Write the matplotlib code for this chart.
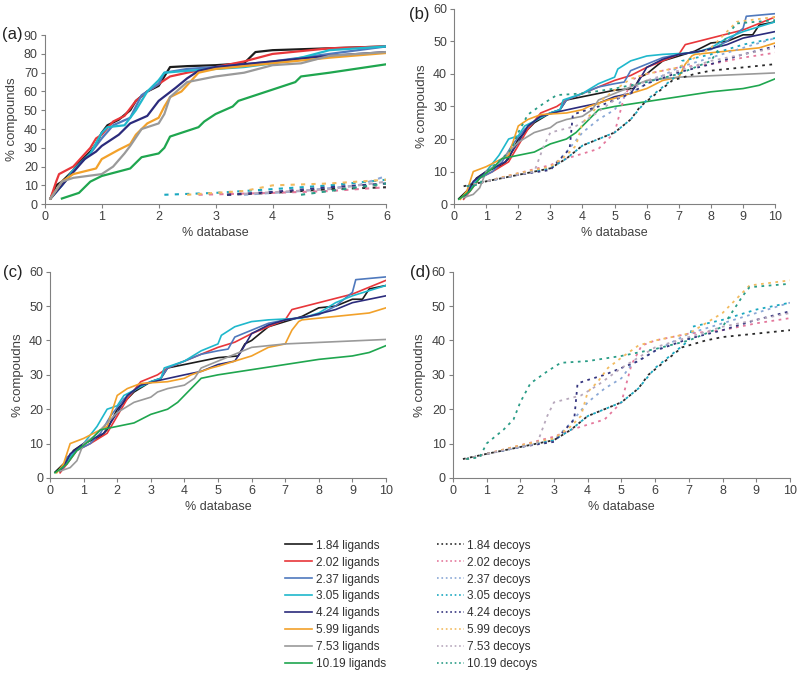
import matplotlib.pyplot as plt
from matplotlib.lines import Line2D

plt.rcParams["font.family"] = ["Liberation Sans", "DejaVu Sans"]

LABELS = ["1.84", "2.02", "2.37", "3.05", "4.24", "5.99", "7.53", "10.19"]
LIGAND_COLORS = ["#1c1c1c", "#e8363a", "#4f79bd", "#1fb8cc", "#2b2b7c",
                 "#f2a12a", "#9a9a9a", "#1fa64f"]
DECOY_COLORS = ["#2a2a2a", "#e4789c", "#8aa8d6", "#1aa8c0", "#34347e",
                "#f2bb60", "#b7a8bc", "#2a9c86"]

# panel (a): first 6 % of the database
A_LIGANDS = {
    "1.84": ([0.1, 0.2, 0.3, 0.5, 0.6, 0.8, 0.9, 1.0, 1.1, 1.3, 1.5, 1.6, 1.8, 2.0, 2.1, 2.2, 2.5, 3.0, 3.5, 3.7, 4.0, 5.0, 6.0],
             [3, 10, 12, 18, 22, 28, 32, 38, 42, 45, 50, 55, 60, 63, 68, 73, 73.5, 74, 75, 81, 82, 83, 84]),
    "2.02": ([0.1, 0.2, 0.25, 0.5, 0.8, 0.9, 1.0, 1.2, 1.4, 1.6, 1.8, 2.0, 2.2, 2.5, 3.0, 3.5, 4.0, 5.0, 6.0],
             [3, 12, 16, 20, 30, 35, 37, 44, 47, 55, 60, 64, 68, 70, 73, 76, 80, 83, 84]),
    "2.37": ([0.1, 0.3, 0.5, 0.8, 1.0, 1.2, 1.5, 1.7, 2.0, 2.1, 2.5, 3.0, 4.0, 5.0, 5.5, 6.0],
             [3, 10, 18, 27, 35, 42, 46, 58, 64, 70, 72, 73, 76, 80, 82, 84]),
    "3.05": ([0.1, 0.3, 0.5, 0.8, 1.0, 1.1, 1.4, 1.6, 1.8, 2.0, 2.1, 2.5, 3.0, 3.5, 4.0, 4.5, 5.0, 6.0],
             [3, 10, 18, 27, 38, 41, 42, 50, 60, 66, 70, 71, 72, 73, 75, 78, 82, 84]),
    "4.24": ([0.1, 0.3, 0.5, 0.7, 0.9, 1.0, 1.3, 1.5, 1.8, 2.0, 2.3, 2.5, 2.7, 3.0, 4.0, 5.0, 6.0],
             [3, 10, 17, 24, 28, 31, 37, 43, 47, 55, 62, 67, 71, 73, 76, 79, 81]),
    "5.99": ([0.1, 0.3, 0.5, 0.9, 1.0, 1.3, 1.5, 1.6, 1.8, 2.0, 2.1, 2.2, 2.4, 2.7, 3.0, 4.0, 5.0, 6.0],
             [3, 12, 16, 19, 24, 29, 32, 37, 43, 46, 52, 57, 60, 70, 72, 75, 78, 80.5]),
    "7.53": ([0.1, 0.3, 0.5, 1.0, 1.2, 1.4, 1.5, 1.7, 2.0, 2.1, 2.2, 2.5, 3.0, 3.5, 4.0, 4.5, 5.0, 6.0],
             [3, 12, 14, 16, 20, 27, 31, 40, 43, 48, 57, 65, 68, 70, 74, 75, 79, 81]),
    "10.19": ([0.3, 0.6, 0.8, 1.0, 1.5, 1.7, 2.0, 2.1, 2.2, 2.5, 2.7, 2.8, 3.0, 3.3, 3.4, 3.7, 4.0, 4.2, 4.4, 4.5, 5.0, 6.0],
              [3, 6, 12, 15, 19, 25, 27, 30, 36, 39, 41, 44, 48, 52, 55, 58, 61, 63, 65, 68, 70, 74.5]),
}
A_DECOYS = {
    "1.84": ([3.2, 4.0, 5.0, 6.0], [5, 6, 8, 9]),
    "2.02": ([2.7, 4.0, 5.0, 6.0], [5, 6, 7, 9]),
    "2.37": ([3.5, 4.5, 5.5, 6.0], [5, 7, 10, 15]),
    "3.05": ([2.1, 3.0, 4.0, 5.0, 6.0], [5, 6, 8, 10, 13]),
    "4.24": ([3.2, 4.0, 5.0, 6.0], [5, 6.5, 9, 11]),
    "5.99": ([2.5, 3.5, 4.0, 5.0, 6.0], [5, 7, 10, 11, 13]),
    "7.53": ([3.5, 5.0, 6.0], [5.5, 8, 12]),
    "10.19": ([4.5, 5.0, 6.0], [5, 7, 11]),
}

# panels (b)-(d): first 10 % of the database
B_LIGANDS = {
    "1.84": ([0.15, 0.5, 0.7, 1.0, 1.5, 1.7, 2.0, 2.5, 3.0, 3.3, 3.5, 4.0, 5.0, 5.6, 5.8, 6.0, 6.5, 7.0, 7.5, 8.0, 8.5, 9.0, 9.3, 9.5, 10.0],
             [1.7, 5, 8, 10, 12, 14, 20, 25, 28, 29, 32, 33, 35, 35.5, 39, 40, 44, 45.5, 47, 49.5, 50, 52, 52, 55, 56]),
    "2.02": ([0.3, 0.5, 0.8, 1.2, 1.7, 2.0, 2.3, 2.7, 3.2, 3.5, 4.0, 4.5, 5.0, 5.5, 6.0, 7.0, 7.2, 8.0, 9.0, 10.0],
             [1.5, 4, 8, 10, 13, 18, 23, 28, 30, 32, 34, 36, 38, 39.5, 42, 46, 49, 51, 53.5, 57.5]),
    "2.37": ([0.4, 0.5, 0.8, 1.2, 1.5, 1.8, 2.2, 2.7, 3.3, 3.5, 4.5, 5.0, 5.3, 5.5, 6.0, 6.5, 7.0, 8.0, 8.5, 9.0, 9.1, 10.0],
             [3, 6, 8, 10, 13, 18, 23, 27, 29, 32, 36, 37, 37.5, 41, 43, 45, 46, 47.5, 50, 54, 57.7, 58.5]),
    "3.05": ([0.3, 0.6, 1.0, 1.4, 1.7, 2.0, 2.2, 2.6, 3.0, 3.3, 3.4, 4.0, 4.5, 5.0, 5.1, 5.5, 6.0, 6.5, 7.5, 8.0, 8.5, 9.0, 10.0],
             [2, 6, 10, 15, 20, 21, 24, 26, 28, 29, 32, 34, 37, 39, 41.5, 44, 45.5, 46, 46.5, 48, 51, 53, 56]),
    "4.24": ([0.3, 0.5, 0.6, 1.0, 1.6, 2.0, 2.3, 2.7, 3.3, 4.0, 4.5, 5.0, 5.5, 5.7, 6.0, 6.5, 7.0, 7.7, 8.5, 9.0, 10.0],
             [2, 5, 7, 10, 13, 19, 24, 27, 28.5, 30, 31, 33, 34, 37, 42, 44.5, 46, 47, 49, 51, 53]),
    "5.99": ([0.2, 0.4, 0.6, 1.0, 1.4, 1.7, 2.0, 2.3, 2.7, 3.5, 4.0, 4.2, 4.8, 5.0, 5.5, 6.0, 6.5, 7.0, 7.2, 7.4, 7.5, 8.0, 9.0, 9.5, 10.0],
             [1.5, 4, 10, 11.5, 13.5, 15, 24, 26, 27.5, 28, 29, 30, 32, 32.5, 34, 35.5, 38, 39, 43, 45.5, 46, 46.5, 47.5, 48, 49.5]),
    "7.53": ([0.3, 0.6, 0.8, 1.0, 1.3, 1.6, 2.0, 2.5, 3.0, 3.2, 3.5, 4.0, 4.3, 4.5, 5.0, 5.5, 6.0, 6.5, 7.0, 10.0],
             [2, 3, 5, 10, 12, 15, 19, 22, 23.5, 25, 26, 27, 29, 32, 34, 36, 38, 38.5, 39, 40.3]),
    "10.19": ([0.15, 0.5, 0.8, 1.2, 1.5, 2.0, 2.5, 3.0, 3.5, 3.8, 4.0, 4.3, 4.5, 5.0, 6.0, 7.0, 8.0, 9.0, 9.5, 10.0],
              [1.5, 4, 8, 11, 14, 15, 16, 18.5, 20, 22, 24, 27, 29, 30, 31.5, 33, 34.5, 35.5, 36.5, 38.5]),
}
B_DECOYS = {
    "1.84": ([0.3, 1.0, 2.0, 3.0, 3.5, 4.0, 5.0, 5.5, 5.8, 6.3, 6.8, 7.5, 8.0, 9.0, 10.0],
             [5.5, 7, 9, 11, 14, 18, 22, 26, 30, 34, 38, 40, 41, 42, 43]),
    "2.02": ([0.4, 1.0, 2.0, 3.0, 3.5, 4.0, 4.5, 5.0, 5.3, 5.6, 6.0, 7.0, 8.0, 9.0, 10.0],
             [5.5, 7, 9.5, 12, 14, 15.5, 17, 22, 33, 38.5, 40, 42, 43, 45, 46.5]),
    "2.37": ([0.4, 1.0, 2.0, 3.0, 3.5, 4.0, 4.5, 5.0, 5.3, 6.0, 7.0, 8.0, 9.0, 10.0],
             [5.5, 7, 9, 11, 16, 22, 26, 29, 33, 37, 42, 45, 48, 51]),
    "3.05": ([0.4, 1.0, 2.0, 3.0, 3.5, 4.0, 5.0, 5.5, 6.0, 6.5, 7.0, 7.1, 8.0, 9.0, 10.0],
             [5.5, 7, 9, 11, 14, 18, 22, 26, 32, 36, 40, 44, 46, 49, 51]),
    "4.24": ([0.4, 1.0, 2.0, 3.0, 3.6, 3.7, 4.0, 4.5, 5.0, 5.5, 6.0, 7.0, 8.0, 9.0, 10.0],
             [5.5, 7, 9, 10.5, 17, 27.5, 28.5, 30, 32, 34, 37, 40.5, 43, 46, 48.5]),
    "5.99": ([0.4, 1.0, 2.0, 3.0, 3.5, 3.8, 4.0, 4.3, 4.6, 5.0, 5.5, 6.0, 7.0, 8.0, 8.5, 8.8, 10.0],
             [5.5, 7, 9.5, 11.5, 15, 18, 25, 28, 32, 35, 38.5, 40, 42, 48, 53, 56, 57.5]),
    "7.53": ([0.4, 1.0, 2.0, 2.5, 2.8, 3.0, 3.8, 4.3, 5.0, 6.0, 7.0, 8.0, 9.0, 10.0],
             [5.5, 7, 9, 10, 18, 22, 24, 27, 32, 38, 41, 44, 46, 48]),
    "10.19": ([0.4, 0.8, 1.0, 1.5, 1.8, 2.0, 2.3, 2.8, 3.2, 4.0, 5.0, 6.0, 7.0, 8.0, 8.6, 8.8, 10.0],
              [5.5, 6, 10, 14, 17, 22, 27.5, 31, 33.5, 34, 35.5, 37.5, 40, 44, 53, 55.5, 56.5]),
}

TEXT = "#404040"
W, H = 800, 676


def style_axes(ax, xmax, ymax, ystep, ylabel):
    ax.set_xlim(0, xmax)
    ax.set_ylim(0, ymax)
    ax.set_xticks(range(0, xmax + 1))
    ax.set_yticks(range(0, ymax + 1, ystep))
    for side in ("top", "right"):
        ax.spines[side].set_visible(False)
    for side in ("left", "bottom"):
        ax.spines[side].set_color("#808080")
        ax.spines[side].set_linewidth(0.8)
    ax.tick_params(colors="#808080", labelcolor=TEXT, labelsize=9,
                   length=3, width=0.8, pad=2)
    ax.set_xlabel("% database", fontsize=9, color=TEXT, labelpad=3)
    ax.set_ylabel(ylabel, fontsize=9.5, color=TEXT, labelpad=4)


def draw(ax, series, colors, ls, lw):
    for label, color in zip(LABELS, colors):
        xs, ys = series[label]
        ax.plot(xs, ys, color=color, linestyle=ls, linewidth=lw)


def tag(text, px, py):
    fig.text(px / W, 1 - py / H, text, fontsize=12, color="#222222",
             ha="center", va="center")


fig = plt.figure(figsize=(8, 6.76), dpi=100)
ax_a = fig.add_axes([0.056, 0.698, 0.427, 0.25])
ax_b = fig.add_axes([0.5675, 0.698, 0.4015, 0.289])
ax_c = fig.add_axes([0.0625, 0.293, 0.42, 0.305])
ax_d = fig.add_axes([0.566, 0.293, 0.4215, 0.305])

draw(ax_a, A_LIGANDS, LIGAND_COLORS, "-", 1.6)
draw(ax_a, A_DECOYS, DECOY_COLORS, (0, (2, 3)), 1.5)
style_axes(ax_a, 6, 90, 10, "% compounds")

draw(ax_b, B_LIGANDS, LIGAND_COLORS, "-", 1.2)
draw(ax_b, B_DECOYS, DECOY_COLORS, (0, (1.5, 2.5)), 1.3)
style_axes(ax_b, 10, 60, 10, "% compoudns")

draw(ax_c, B_LIGANDS, LIGAND_COLORS, "-", 1.2)
style_axes(ax_c, 10, 60, 10, "% compoudns")

draw(ax_d, B_DECOYS, DECOY_COLORS, (0, (1.5, 2.5)), 1.3)
style_axes(ax_d, 10, 60, 10, "% compoudns")

tag("(a)", 12, 35)
tag("(b)", 419, 14)
tag("(c)", 13, 272)
tag("(d)", 420, 272)

handles = [Line2D([], [], color=c, lw=1.2) for c in LIGAND_COLORS]
handles += [Line2D([], [], color=c, lw=1.2, linestyle=":") for c in DECOY_COLORS]
names = [f"{l} ligands" for l in LABELS] + [f"{l} decoys" for l in LABELS]
fig.legend(handles, names, ncol=2, frameon=False, fontsize=8.5,
           loc="upper center", bbox_to_anchor=(0.514, 1 - 529 / H),
           labelspacing=0.42, handlelength=2.3, handletextpad=0.3,
           columnspacing=4.3, labelcolor="#303030")

fig.savefig("out.png", dpi=100)
